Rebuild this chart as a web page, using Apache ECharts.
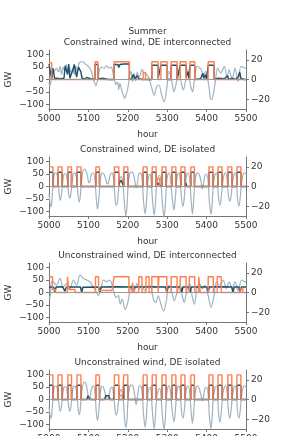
<!DOCTYPE html>
<html><head><meta charset="utf-8">
<script src="https://cdn.jsdelivr.net/npm/echarts@6/dist/echarts.min.js"></script>
<style>html,body{margin:0;padding:0;background:#fff}#c{width:299px;height:436px}</style>
</head><body><div id="c"></div>
<script>
const suptitle = "Summer";
const titles = ["Constrained wind, DE interconnected","Constrained wind, DE isolated","Unconstrained wind, DE interconnected","Unconstrained wind, DE isolated"];
const xTicks = [5000,5100,5200,5300,5400,5500];
const leftTicks = [-100,-50,0,50,100];
const rightTicks = [-20,0,20];

// Panel 1: constrained wind, DE interconnected
const gray1 = [[5000,-15],[5002,-28],[5005,-5],[5010,40],[5014,35],[5019,45],[5024,30],[5028,53],[5032,20],[5036,50],[5040,35],[5044,60],[5048,25],[5052,50],[5056,25],[5060,45],[5064,20],[5068,55],[5072,30],[5076,65],[5080,70],[5086,72],[5092,62],[5098,55],[5104,45],[5108,30],[5112,5],[5116,-15],[5119,-25],[5123,-5],[5128,40],[5134,50],[5140,45],[5146,55],[5152,45],[5158,50],[5162,30],[5166,0],[5170,-20],[5174,-10],[5177,-40],[5180,-15],[5184,-40],[5188,-60],[5192,-76],[5196,-60],[5200,-35],[5204,10],[5208,33],[5212,-8],[5216,25],[5220,-5],[5224,30],[5228,5],[5232,20],[5236,40],[5240,30],[5244,26],[5252,12],[5261,-35],[5267,-63],[5273,-29],[5279,-22],[5286,-63],[5292,-90],[5299,-35],[5304,33],[5311,-1],[5317,-49],[5324,-8],[5330,33],[5337,-22],[5341,-42],[5347,-1],[5352,40],[5360,-29],[5365,-49],[5370,19],[5377,53],[5386,40],[5392,19],[5398,33],[5404,-8],[5410,-76],[5413,-80],[5421,-22],[5428,46],[5436,26],[5445,53],[5452,5],[5457,40],[5465,-1],[5472,46],[5480,-8],[5487,53],[5496,46],[5500,45]];
const dark1 = [[5000,62],[5005,62],[5007,0],[5008,5],[5010,45],[5012,30],[5014,5],[5017,8],[5020,5],[5024,8],[5028,3],[5032,0],[5038,5],[5041,55],[5044,60],[5047,20],[5050,62],[5053,5],[5058,3],[5061,40],[5064,60],[5067,62],[5070,10],[5073,5],[5075,50],[5078,55],[5081,30],[5084,5],[5090,3],[5096,8],[5100,5],[5105,3],[5110,0],[5117,0],[5117,60],[5124,60],[5124,5],[5130,3],[5136,5],[5142,3],[5150,0],[5165,0],[5165,60],[5175,60],[5177,48],[5180,60],[5190,62],[5204,62],[5204,0],[5210,5],[5214,20],[5218,3],[5224,15],[5228,3],[5238,0],[5261,0],[5261,57],[5277,57],[5277,5],[5280,10],[5284,57],[5300,57],[5300,0],[5305,8],[5310,0],[5310,57],[5325,57],[5325,0],[5333,57],[5348,57],[5348,10],[5352,30],[5355,5],[5358,57],[5370,57],[5370,0],[5385,3],[5390,25],[5393,5],[5397,20],[5400,0],[5404,57],[5419,57],[5419,0],[5430,5],[5435,0],[5445,3],[5453,15],[5456,0],[5465,5],[5472,0],[5480,10],[5484,30],[5487,5],[5495,0],[5500,0]];
const orange1 = [[5000,17],[5007,0],[5117,18],[5124,0],[5165,18],[5204,0],[5239,7],[5245,0],[5261,18],[5277,0],[5284,18],[5300,0],[5310,18],[5325,0],[5333,18],[5348,0],[5358,18],[5370,0],[5404,18],[5419,0],[5500,0]];

// Panel 2: constrained wind, DE isolated
const gray2 = [[5000,-30],[5003,-70],[5005,-82],[5007,-65],[5010,5],[5013,45],[5017,55],[5021,45],[5024,10],[5026,-35],[5029,-55],[5031,-40],[5034,5],[5037,45],[5041,52],[5045,40],[5048,5],[5050,-30],[5053,-47],[5055,-35],[5058,5],[5061,45],[5065,55],[5069,42],[5072,5],[5074,-40],[5077,-62],[5079,-45],[5082,10],[5086,60],[5090,70],[5094,62],[5098,40],[5101,15],[5104,20],[5108,50],[5113,55],[5117,20],[5120,-50],[5123,-90],[5126,-60],[5129,5],[5132,45],[5136,55],[5140,48],[5144,30],[5148,10],[5151,15],[5155,45],[5160,55],[5164,30],[5167,-30],[5170,-75],[5173,-70],[5176,-20],[5179,20],[5182,40],[5186,30],[5189,-10],[5192,-80],[5195,-118],[5198,-80],[5201,10],[5205,50],[5209,58],[5213,55],[5217,30],[5221,-5],[5225,20],[5229,55],[5234,50],[5237,20],[5240,-60],[5244,-110],[5247,-70],[5250,5],[5253,40],[5256,50],[5259,30],[5263,-60],[5267,-115],[5270,-70],[5273,5],[5277,35],[5281,45],[5284,20],[5288,-70],[5292,-125],[5295,-80],[5298,5],[5301,45],[5305,55],[5308,35],[5313,-50],[5317,-95],[5320,-60],[5323,5],[5326,45],[5330,55],[5333,30],[5336,-40],[5340,-80],[5343,-50],[5346,5],[5349,45],[5353,55],[5357,30],[5361,-60],[5364,-110],[5367,-60],[5370,10],[5374,50],[5378,55],[5382,45],[5386,20],[5389,-10],[5392,10],[5396,45],[5400,50],[5404,20],[5407,-60],[5411,-112],[5414,-70],[5417,5],[5421,45],[5425,55],[5428,30],[5430,-40],[5434,-75],[5437,-45],[5440,5],[5444,45],[5448,55],[5452,30],[5455,-30],[5459,-60],[5462,-40],[5465,5],[5469,45],[5473,55],[5476,30],[5478,-40],[5482,-78],[5485,-50],[5488,5],[5492,45],[5496,55],[5500,50]];
const dark2 = [[5000,57],[5010,57],[5010,0],[5023,0],[5023,57],[5033,57],[5033,0],[5048,0],[5048,57],[5057,57],[5057,0],[5071,0],[5071,57],[5081,57],[5081,0],[5119,0],[5119,57],[5128,57],[5128,0],[5166,0],[5166,57],[5177,57],[5177,0],[5179,15],[5183,25],[5187,10],[5190,0],[5190,57],[5200,57],[5200,0],[5239,0],[5239,57],[5249,57],[5249,0],[5262,0],[5262,57],[5272,57],[5272,0],[5276,15],[5280,5],[5287,0],[5287,57],[5297,57],[5297,0],[5312,0],[5312,57],[5322,57],[5322,0],[5335,0],[5335,57],[5345,57],[5345,0],[5347,15],[5350,0],[5360,0],[5360,57],[5369,57],[5369,0],[5406,0],[5406,57],[5416,57],[5416,0],[5429,0],[5429,57],[5439,57],[5439,0],[5454,0],[5454,57],[5464,57],[5464,0],[5477,0],[5477,57],[5487,57],[5487,0],[5500,0]];
const orange2 = [[5000,20],[5010,0],[5023,20],[5033,0],[5048,20],[5057,0],[5071,20],[5081,0],[5119,20],[5128,0],[5166,20],[5177,0],[5190,20],[5200,0],[5239,20],[5249,0],[5262,20],[5272,0],[5275,8],[5281,0],[5287,20],[5297,0],[5312,20],[5322,0],[5335,20],[5345,0],[5360,20],[5369,0],[5406,20],[5416,0],[5429,20],[5439,0],[5454,20],[5464,0],[5477,20],[5487,0],[5500,0]];

// Panel 3: unconstrained wind, DE interconnected
const gray3 = [[5000,-15],[5002,-20],[5004,-10],[5006,45],[5011,43],[5019,29],[5028,57],[5036,22],[5045,36],[5053,15],[5062,50],[5070,29],[5079,71],[5087,57],[5096,50],[5104,43],[5112,22],[5121,0],[5125,-12],[5132,15],[5138,50],[5146,43],[5153,50],[5159,36],[5165,0],[5170,-20],[5176,-12],[5181,-47],[5186,-26],[5193,-68],[5200,-40],[5206,15],[5211,29],[5217,8],[5223,36],[5229,15],[5235,29],[5242,8],[5248,22],[5256,29],[5265,-26],[5271,-40],[5277,-12],[5284,-47],[5291,-75],[5298,-33],[5304,29],[5311,8],[5318,-33],[5325,0],[5332,29],[5338,-12],[5343,-40],[5350,8],[5357,36],[5364,-20],[5369,-47],[5376,22],[5382,36],[5389,15],[5396,29],[5404,-12],[5411,-60],[5418,-20],[5425,43],[5433,29],[5442,50],[5450,15],[5457,43],[5465,15],[5472,43],[5480,8],[5489,50],[5497,43],[5500,40]];
const dark3 = [[5000,22],[5012,21],[5015,0],[5018,22],[5035,23],[5040,5],[5044,22],[5080,22],[5083,0],[5086,21],[5126,22],[5129,0],[5132,22],[5170,23],[5210,22],[5213,0],[5216,22],[5260,23],[5296,22],[5299,0],[5302,22],[5334,22],[5337,0],[5340,22],[5355,22],[5358,0],[5361,22],[5401,22],[5404,0],[5407,22],[5440,23],[5464,22],[5467,0],[5470,22],[5482,22],[5485,0],[5488,22],[5500,22]];
const orange3 = [[5000,16],[5009,3],[5016,0],[5046,0],[5047,16],[5050,3],[5066,0],[5118,16],[5126,2],[5160,0],[5165,16],[5203,0],[5212,10],[5216,0],[5228,16],[5236,0],[5246,16],[5254,0],[5261,16],[5277,0],[5279,16],[5299,0],[5310,16],[5325,0],[5333,16],[5348,0],[5356,16],[5370,0],[5380,16],[5384,0],[5404,16],[5417,0],[5427,16],[5437,0],[5485,4],[5492,0],[5500,0]];

// Panel 4: unconstrained wind, DE isolated
const gray4 = [[5000,-30],[5003,-65],[5005,-75],[5007,-60],[5010,5],[5013,45],[5017,55],[5021,45],[5024,10],[5026,-30],[5029,-47],[5031,-35],[5034,5],[5037,45],[5041,52],[5045,40],[5048,5],[5050,-30],[5053,-47],[5055,-35],[5058,5],[5061,45],[5065,55],[5069,42],[5072,5],[5074,-40],[5077,-61],[5079,-45],[5082,10],[5086,60],[5090,70],[5094,62],[5098,30],[5101,2],[5104,5],[5108,45],[5113,55],[5117,20],[5120,-50],[5123,-85],[5126,-55],[5129,5],[5132,45],[5136,55],[5140,40],[5144,15],[5148,2],[5151,5],[5155,40],[5160,50],[5164,20],[5167,-30],[5170,-62],[5173,-55],[5176,-15],[5179,20],[5182,40],[5186,30],[5189,-10],[5192,-80],[5195,-112],[5198,-80],[5201,10],[5205,50],[5209,58],[5213,55],[5217,25],[5221,-20],[5225,15],[5229,55],[5234,50],[5237,20],[5240,-60],[5244,-112],[5247,-70],[5250,5],[5253,40],[5256,50],[5259,30],[5263,-60],[5267,-118],[5270,-70],[5273,5],[5277,35],[5281,45],[5284,20],[5288,-70],[5292,-120],[5295,-80],[5298,5],[5301,45],[5305,55],[5308,35],[5313,-50],[5317,-90],[5320,-60],[5323,5],[5326,45],[5330,55],[5333,30],[5336,-40],[5340,-75],[5343,-50],[5346,5],[5349,45],[5353,55],[5357,30],[5361,-55],[5364,-95],[5367,-55],[5370,10],[5374,50],[5378,55],[5382,40],[5386,15],[5389,-5],[5392,10],[5396,45],[5400,50],[5404,20],[5407,-65],[5411,-118],[5414,-70],[5417,5],[5421,45],[5425,55],[5428,30],[5430,-50],[5434,-90],[5437,-55],[5440,5],[5444,45],[5448,55],[5452,30],[5455,-40],[5459,-75],[5462,-45],[5465,5],[5469,45],[5473,55],[5476,30],[5478,-40],[5482,-75],[5485,-50],[5488,5],[5492,45],[5496,55],[5500,50]];
const dark4 = [[5000,57],[5010,57],[5010,0],[5023,0],[5023,57],[5033,57],[5033,0],[5048,0],[5048,57],[5057,57],[5057,0],[5071,0],[5071,57],[5081,57],[5081,0],[5096,0],[5099,15],[5102,12],[5105,0],[5119,0],[5119,57],[5128,57],[5128,0],[5141,0],[5144,15],[5148,12],[5152,15],[5155,0],[5163,0],[5165,10],[5166,57],[5177,57],[5177,0],[5190,0],[5190,57],[5200,57],[5200,0],[5239,0],[5239,57],[5249,57],[5249,0],[5262,0],[5262,57],[5272,57],[5272,0],[5287,0],[5287,57],[5297,57],[5297,0],[5312,0],[5312,57],[5322,57],[5322,0],[5335,0],[5335,57],[5345,57],[5345,0],[5360,0],[5360,57],[5369,57],[5369,0],[5385,0],[5388,8],[5391,0],[5406,0],[5406,57],[5416,57],[5416,0],[5429,0],[5429,57],[5439,57],[5439,0],[5454,0],[5454,57],[5464,57],[5464,0],[5477,0],[5477,57],[5487,57],[5487,0],[5500,0]];
const orange4 = [[5000,25],[5010,0],[5023,25],[5033,0],[5048,25],[5057,0],[5071,25],[5081,0],[5119,25],[5128,0],[5166,25],[5177,0],[5180,4],[5186,0],[5190,25],[5200,0],[5239,25],[5249,0],[5262,25],[5272,0],[5287,25],[5297,0],[5312,25],[5322,0],[5335,25],[5345,0],[5360,25],[5369,0],[5406,25],[5416,0],[5429,25],[5439,0],[5454,25],[5464,0],[5477,25],[5487,0],[5500,0]];

const grays = [gray1, gray2, gray3, gray4];
const darks = [dark1, dark2, dark3, dark4];
const oranges = [orange1, orange2, orange3, orange4];

const FONT = 'DejaVu Sans';
const TXT = '#333';
const AX = '#777';
const GRAY = '#a0b3c1';
const DARK = '#1b5069';
const ORANGE = '#ff7f4f';
const tops = [50, 157, 263, 370];
const H = 59;

const grid = [], xAxis = [], yAxis = [], series = [], graphic = [];
tops.forEach((t, i) => {
  grid.push({left: 49, width: 197, top: t, height: H, containLabel: false, outerBoundsMode: 'none'});
  xAxis.push({
    type: 'value', gridIndex: i, min: 5000, max: 5500, interval: 100,
    name: 'hour', nameLocation: 'middle', nameGap: 21, nameMoveOverlap: false,
    nameTextStyle: {color: TXT, fontFamily: FONT, fontSize: 9},
    axisLine: {show: true, onZero: false, lineStyle: {color: AX, width: 1}},
    axisTick: {show: true, length: 3, lineStyle: {color: AX}},
    axisLabel: {color: TXT, fontFamily: FONT, fontSize: 9, margin: 5,
      customValues: xTicks, formatter: v => String(v)},
    splitLine: {show: false}
  });
  yAxis.push({
    type: 'value', gridIndex: i, position: 'left', min: -118, max: 118,
    name: 'GW', nameLocation: 'middle', nameGap: 36, nameRotate: 90, nameMoveOverlap: false,
    nameTextStyle: {color: TXT, fontFamily: FONT, fontSize: 9},
    axisLine: {show: true, onZero: false, lineStyle: {color: AX, width: 1}},
    axisTick: {show: true, length: 3, customValues: leftTicks, lineStyle: {color: AX}},
    axisLabel: {color: TXT, fontFamily: FONT, fontSize: 9, margin: 5,
      customValues: leftTicks, formatter: v => (v < 0 ? '\u2212' + Math.abs(v) : String(v))},
    splitLine: {show: false}
  });
  yAxis.push({
    type: 'value', gridIndex: i, position: 'right', min: -30, max: 30,
    axisLine: {show: true, onZero: false, lineStyle: {color: AX, width: 1}},
    axisTick: {show: true, length: 3, customValues: rightTicks, lineStyle: {color: AX}},
    axisLabel: {color: TXT, fontFamily: FONT, fontSize: 9, margin: 5,
      customValues: rightTicks, formatter: v => (v < 0 ? '\u2212' + Math.abs(v) : String(v))},
    splitLine: {show: false}
  });
  series.push({
    type: 'line', xAxisIndex: i, yAxisIndex: 2 * i, data: grays[i], showSymbol: false,
    smooth: 0.3, z: 2, lineStyle: {color: GRAY, width: 1.2}, itemStyle: {color: GRAY},
    markLine: {silent: true, symbol: 'none', label: {show: false},
      lineStyle: {color: '#9a9a9a', width: 1, type: 'solid'}, data: [{yAxis: 0}]}
  });
  series.push({
    type: 'line', xAxisIndex: i, yAxisIndex: 2 * i, data: darks[i], showSymbol: false,
    z: 3, lineStyle: {color: DARK, width: 1.4}, itemStyle: {color: DARK}
  });
  series.push({
    type: 'line', xAxisIndex: i, yAxisIndex: 2 * i + 1, data: oranges[i], showSymbol: false,
    step: 'end', z: 4, lineStyle: {color: ORANGE, width: 1.4}, itemStyle: {color: ORANGE}
  });
  graphic.push({type: 'text', x: 147.5, y: t - 7, style: {text: titles[i], fill: TXT,
    font: '9px "DejaVu Sans"', textAlign: 'center', textVerticalAlign: 'middle'}});
});
graphic.push({type: 'text', x: 147.5, y: 32, style: {text: suptitle, fill: TXT,
  font: '9px "DejaVu Sans"', textAlign: 'center', textVerticalAlign: 'middle'}});

const chart = echarts.init(document.getElementById('c'), null, {renderer: 'canvas'});
chart.setOption({animation: false, backgroundColor: '#fff', grid, xAxis, yAxis, series, graphic});
</script></body></html>
